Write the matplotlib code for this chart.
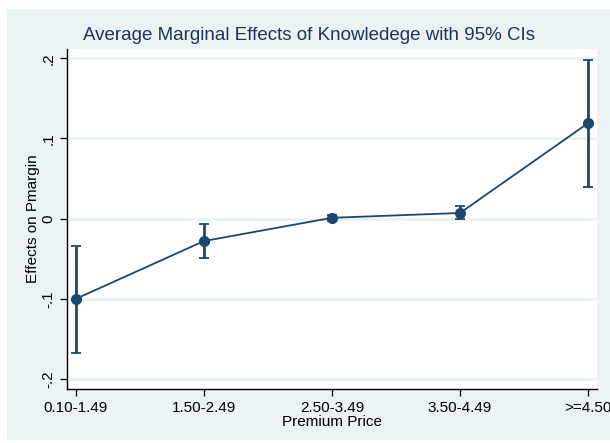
import matplotlib.pyplot as plt
from matplotlib.patches import Rectangle

plt.rcParams['font.family'] = ['Liberation Sans', 'DejaVu Sans']

# marginal effects by premium price band
categories = ['0.10-1.49', '1.50-2.49', '2.50-3.49', '3.50-4.49', '>=4.50']
effect = [-0.100, -0.028, 0.001, 0.007, 0.119]
ci_low = [-0.167, -0.049, -0.003, -0.001, 0.040]
ci_high = [-0.034, -0.007, 0.005, 0.016, 0.198]
yticks = [-0.2, -0.1, 0.0, 0.1, 0.2]
ytick_labels = ['-.2', '-.1', '0', '.1', '.2']

navy = '#1a476f'
bg = '#eaf2f3'

fig = plt.figure(figsize=(6.1, 4.43), dpi=100)
fig.patch.set_facecolor('white')
fig.patches.append(Rectangle((7 / 610, 3 / 443), 1 - 7 / 610, 1 - 12 / 443,
                             transform=fig.transFigure, facecolor=bg,
                             edgecolor='none', zorder=-10))

ax = fig.add_axes([67 / 610, 1 - 389 / 443, 530 / 610, 340 / 443])
ax.set_facecolor('white')

x = list(range(len(categories)))
yerr = [[e - lo for e, lo in zip(effect, ci_low)],
        [hi - e for e, hi in zip(effect, ci_high)]]
ax.errorbar(x, effect, yerr=yerr, fmt='none', ecolor=navy, elinewidth=2.0,
            capsize=3.5, capthick=1.3, zorder=3)
ax.plot(x, effect, color=navy, lw=1.3, marker='o', ms=7, zorder=4)

ax.set_xlim(-0.07, 4.07)
ax.set_ylim(-0.2125, 0.2115)
ax.set_xticks(x)
ax.set_xticklabels(categories, fontsize=11)
ax.set_yticks(yticks)
ax.set_yticklabels(ytick_labels, fontsize=11, rotation=90, va='center')
ax.grid(axis='y', color=bg, lw=2)
ax.set_axisbelow(True)
ax.tick_params(direction='out', length=5, width=0.9, color='black')
for s in ['top', 'right']:
    ax.spines[s].set_visible(False)
for s in ['left', 'bottom']:
    ax.spines[s].set_linewidth(1.0)

ax.set_xlabel('Premium Price', fontsize=11, labelpad=0)
ax.set_ylabel('Effects on Pmargin', fontsize=11, labelpad=1)
fig.text(0.507, 1 - 35 / 443, 'Average Marginal Effects of Knowledege with 95% CIs',
         ha='center', va='center', fontsize=13.5, color='#1e3559')

fig.savefig('out.png', dpi=100, facecolor=fig.get_facecolor())
